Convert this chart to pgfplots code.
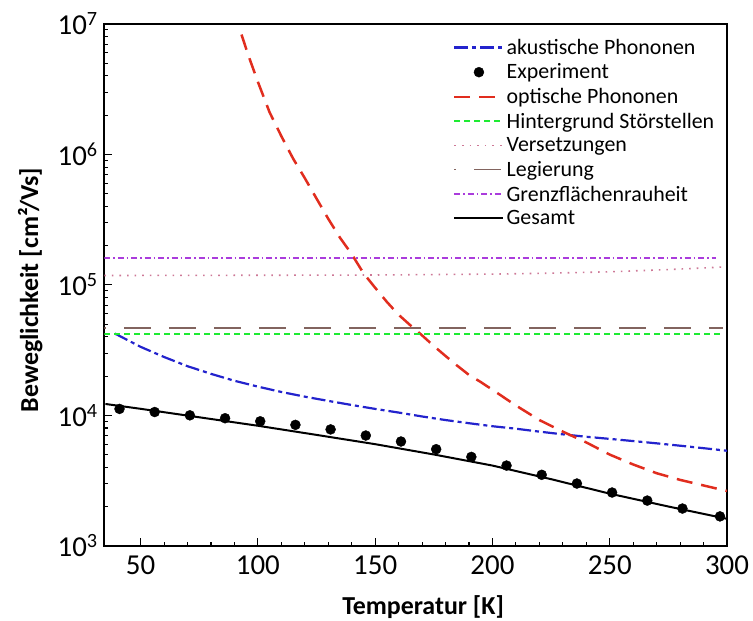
\documentclass[border=0pt]{standalone}
\usepackage{fontspec}
\setmainfont{Carlito}
\usepackage{pgfplots}
\pgfplotsset{compat=1.18}
\definecolor{cblue}{RGB}{35,35,205}
\definecolor{cred}{RGB}{225,45,30}
\definecolor{cgreen}{RGB}{30,235,50}
\definecolor{cpink}{RGB}{205,120,150}
\definecolor{cbrown}{RGB}{130,100,95}
\definecolor{cpurple}{RGB}{170,60,220}
\begin{document}
\begin{tikzpicture}
\begin{axis}[
  scale only axis, width=623bp, height=522bp,
  xmin=34.5, xmax=300, ymode=log, ymin=1e3, ymax=1e7,
  xtick={50,100,150,200,250,300}, minor x tick num=4,
  ytick={1e3,1e4,1e5,1e6,1e7},
  yticklabels={10\textsuperscript{3},10\textsuperscript{4},10\textsuperscript{5},10\textsuperscript{6},10\textsuperscript{7}},
  tick align=inside, tick pos=left,
  major tick length=8bp, minor tick length=4bp,
  every tick/.style={black, line width=1.1bp},
  axis line style={line width=1.6bp},
  tick label style={font=\fontsize{29}{32}\selectfont},
  xticklabel style={yshift=-6bp},
  yticklabel style={xshift=-3bp},
  /pgf/number format/assume math mode=true,
  xlabel={Temperatur [K]},
  ylabel={Beweglichkeit [cm²/Vs]},
  label style={font=\fontsize{26}{30}\selectfont\bfseries},
  xlabel style={at={(axis description cs:0.512,-0.118)}, anchor=center},
  ylabel style={at={(axis description cs:-0.119,0.49)}, anchor=center},
  legend style={at={(rel axis cs:0.56,0.975)}, anchor=north west, draw=none, fill=none,
    font=\fontsize{22}{24}\selectfont, inner sep=0pt, row sep=4bp},
  legend cell align=left,
  legend image code/.code={\draw[mark repeat=2,mark phase=2,#1] plot coordinates {(0bp,0bp) (24.5bp,0bp) (49bp,0bp)};},
]
% akustische Phononen
\addplot[cblue, line width=2.2bp, dash pattern=on 14bp off 4bp on 4bp off 4bp] coordinates {
(39,42300) (40,41500) (50,33500) (60,28000) (70,23800) (80,20800) (90,18400) (100,16600)
(110,15100) (120,13900) (130,12900) (140,12000) (150,11200) (160,10500) (170,9800)
(180,9200) (190,8700) (200,8250) (210,7900) (220,7500) (230,7150) (240,6850) (250,6600)
(260,6350) (270,6100) (280,5850) (290,5600) (300,5350)};
\addlegendentry{akustische Phononen}
% Experiment
\addplot[only marks, mark=*, mark size=5bp, black] coordinates {
(41,11200) (56,10600) (71,10000) (86,9500) (101,9000) (116,8450) (131,7800) (146,7000)
(161,6300) (176,5500) (191,4800) (206,4120) (221,3500) (236,3000) (251,2560) (266,2220)
(281,1930) (297,1680)};
\addlegendentry{Experiment}
% optische Phononen
\addplot[cred, line width=2.5bp, dash pattern=on 16bp off 9bp] coordinates {
(93,8300000) (96,5700000) (100,3600000) (105,2100000) (110,1380000) (115,930000)
(120,658000) (125,459000) (130,321000) (135,230000) (140,172000) (145,123000)
(150,95000) (155,74000) (160,59000) (165,49000) (170,41000) (175,34000) (180,28500)
(185,24000) (190,20400) (195,18000) (200,15700) (210,11900) (220,9200) (230,7500)
(240,6200) (250,5000) (260,4200) (270,3600) (280,3200) (290,2900) (300,2630)};
\addlegendentry{optische Phononen}
% Hintergrund Stoerstellen
\addplot[cgreen, line width=2bp, dash pattern=on 6bp off 4bp] coordinates {
(34.5,42300) (298.5,42300)};
\addlegendentry{Hintergrund Störstellen}
% Versetzungen
\addplot[cpink, line width=1.6bp, dash pattern=on 1.6bp off 6bp] coordinates {
(34.5,118000) (100,118500) (150,119000) (200,121000) (225,123000) (250,126000)
(275,131000) (298,137000)};
\addlegendentry{Versetzungen}
% Legierung
\addplot[cbrown, line width=1.5bp, dash pattern=on 27bp off 18bp, dash phase=25bp] coordinates {
(34.5,46900) (298.5,46900)};
\addlegendentry{Legierung}
% Grenzflaechenrauheit
\addplot[cpurple, line width=1.6bp, dash pattern=on 6bp off 3bp on 1.5bp off 3bp] coordinates {
(34.5,160000) (295.5,160000)};
\addlegendentry{Grenzflächenrauheit}
% Gesamt
\addplot[black, line width=2bp] coordinates {
(35,12220) (50,11220) (75,9660) (100,8320) (125,7080) (150,6010) (175,5010)
(200,4120) (225,3240) (250,2510) (275,2000) (300,1610)};
\addlegendentry{Gesamt}
\end{axis}
\pgfresetboundingbox
\path[use as bounding box] ([xshift=-104.3bp,yshift=-75bp]current axis.south west) rectangle ([xshift=26bp,yshift=24bp]current axis.north east);
\end{tikzpicture}
\end{document}
